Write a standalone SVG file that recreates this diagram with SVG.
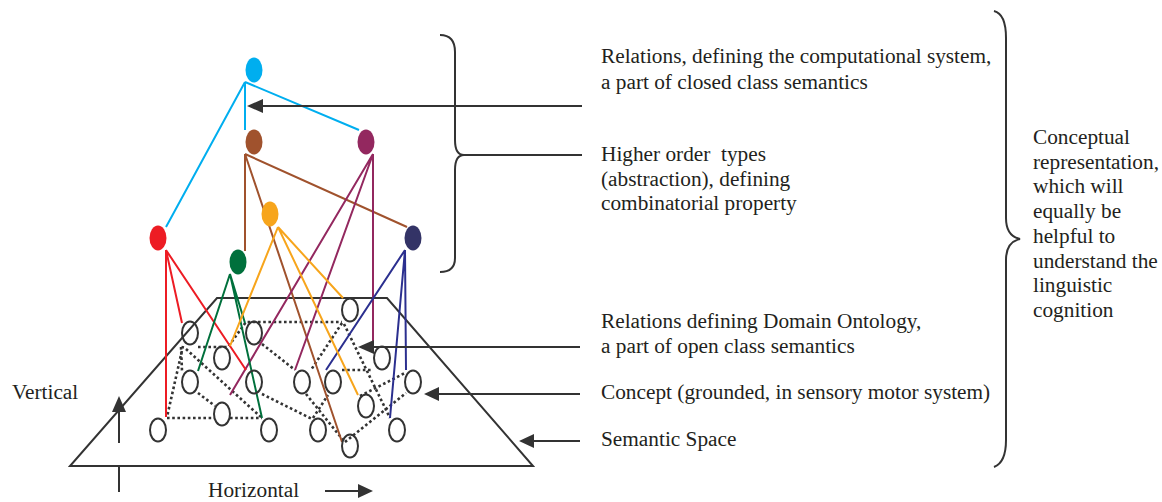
<svg xmlns="http://www.w3.org/2000/svg" width="1162" height="502" viewBox="0 0 1162 502">
<style>
text{font-family:"Liberation Serif","Times New Roman",serif;font-size:21.3px;fill:#231f20}
.g{fill:none;stroke:#333;stroke-width:2}
.dot{fill:none;stroke:#333;stroke-width:2.6;stroke-dasharray:2.6 2.6}
.k{fill:none;stroke:#333;stroke-width:2}
.ah{fill:#333;stroke:none}
.cy{stroke:#00aeef;stroke-width:2;fill:none}
.br{stroke:#a0522d;stroke-width:2;fill:none}
.mr{stroke:#93285f;stroke-width:2;fill:none}
.nv{stroke:#2b2f8f;stroke-width:2;fill:none}
.rd{stroke:#ed1c24;stroke-width:2;fill:none}
.gr{stroke:#00703c;stroke-width:2;fill:none}
.or{stroke:#f7a51c;stroke-width:2;fill:none}
</style>
<g id="semantic-space">
<polygon class="k" points="217,298 387,298 533,466 70,466"/>
</g>
<g id="connectors">
<polyline class="dot" points="198,347 228,347 246,322 342,322"/>
<line class="dot" x1="342" y1="323" x2="311" y2="370"/>
<line class="dot" x1="344" y1="324" x2="390" y2="418"/>
<line class="dot" x1="262" y1="344" x2="295" y2="370"/>
<line class="dot" x1="342" y1="370" x2="373" y2="370"/>
<line class="dot" x1="360" y1="396" x2="405" y2="373"/>
<line class="dot" x1="345" y1="442" x2="406" y2="393"/>
<line class="dot" x1="262" y1="394" x2="312" y2="419"/>
<line class="dot" x1="306" y1="394" x2="343" y2="440"/>
<line class="dot" x1="313" y1="418" x2="328" y2="395"/>
<line class="dot" x1="183" y1="346" x2="167" y2="417"/>
<line class="dot" x1="181" y1="347" x2="182" y2="371"/>
<line class="dot" x1="186" y1="349" x2="262" y2="418"/>
<line class="dot" x1="198" y1="393" x2="215" y2="406"/>
<line class="dot" x1="167" y1="418" x2="214" y2="418"/>
<line class="dot" x1="230" y1="418" x2="262" y2="418"/>
<path class="cy" d="M245,82 V130 M245,82 L166,227 M245,82 L359,130"/>
<path class="br" d="M245,154 V251 M245,154 L407,227 M245,154 L342,442"/>
<path class="mr" d="M373,154 V347 M373,154 L230,395 M373,154 L295,370"/>
<path class="nv" d="M405,250 L326,370 M405,250 L406,370 M405,250 L390,418"/>
<path class="rd" d="M166,250 V417 M166,250 L182,323 M166,250 L246,370"/>
<path class="gr" d="M230,274 L198,371 M230,274 L245,323 M230,274 L262,418"/>
<path class="or" d="M278,227 L230,346 M278,227 L343,298 M278,227 L358,395"/>
<line class="k" x1="582" y1="106" x2="262" y2="106"/>
<polygon class="ah" points="247,106 263,99 263,113"/>
<line class="k" x1="463" y1="155" x2="582" y2="155"/>
<line class="k" x1="580" y1="347" x2="373" y2="347"/>
<polygon class="ah" points="358,347 374,340 374,354"/>
<line class="k" x1="580" y1="394" x2="438" y2="394"/>
<polygon class="ah" points="424,394 439,387 439,401"/>
<line class="k" x1="580" y1="441" x2="533" y2="441"/>
<polygon class="ah" points="519,441 534,434 534,448"/>
<line class="k" x1="119" y1="443" x2="119" y2="410"/>
<polygon class="ah" points="119,396 112,412 126,412"/>
<line class="k" x1="119" y1="467" x2="119" y2="492"/>
<line class="k" x1="325" y1="491" x2="359" y2="491"/>
<polygon class="ah" points="373,491 358,484 358,498"/>
<path class="k" d="M440,35 C450,35 455,40 455,52 L455,140 C455,150 458,155 464,155 C458,155 455,160 455,170 L455,258 C455,268 450,272 440,272"/>
<path class="k" d="M994,11 C1002,13 1006,22 1006,38 L1006,218 C1006,230 1011,237 1020,239 C1011,241 1006,248 1006,260 L1006,440 C1006,456 1002,464 994,467"/>
</g>
<g id="higher-nodes">
<ellipse id="n-cyan" cx="254" cy="70" rx="8.5" ry="12.5" fill="#00aeef"/>
<ellipse id="n-brown" cx="254" cy="142" rx="8.5" ry="12.5" fill="#a0522d"/>
<ellipse id="n-maroon" cx="366" cy="142" rx="8.5" ry="12.5" fill="#93285f"/>
<ellipse id="n-orange" cx="270" cy="214" rx="8.5" ry="12.5" fill="#f7a51c"/>
<ellipse id="n-red" cx="158" cy="238" rx="8.5" ry="12.5" fill="#ed1c24"/>
<ellipse id="n-navy" cx="413" cy="238" rx="8.5" ry="12.5" fill="#333366"/>
<ellipse id="n-green" cx="238" cy="262" rx="8.5" ry="12.5" fill="#00703c"/>
</g>
<g id="concepts">
<ellipse id="c-a" class="g" cx="190" cy="333" rx="8" ry="11.5"/>
<ellipse id="c-b" class="g" cx="254" cy="333" rx="8" ry="11.5"/>
<ellipse id="c-c" class="g" cx="350" cy="310" rx="8" ry="11.5"/>
<ellipse id="c-d" class="g" cx="222" cy="358" rx="8" ry="11.5"/>
<ellipse id="c-e" class="g" cx="382" cy="358" rx="8" ry="11.5"/>
<ellipse id="c-f" class="g" cx="190" cy="382" rx="8" ry="11.5"/>
<ellipse id="c-g" class="g" cx="254" cy="382" rx="8" ry="11.5"/>
<ellipse id="c-h" class="g" cx="302" cy="382" rx="8" ry="11.5"/>
<ellipse id="c-i" class="g" cx="333" cy="382" rx="8" ry="11.5"/>
<ellipse id="c-j" class="g" cx="413" cy="382" rx="8" ry="11.5"/>
<ellipse id="c-k" class="g" cx="222" cy="414" rx="8" ry="11.5"/>
<ellipse id="c-l" class="g" cx="366" cy="406" rx="8" ry="11.5"/>
<ellipse id="c-m" class="g" cx="158" cy="430" rx="8" ry="11.5"/>
<ellipse id="c-n" class="g" cx="269" cy="430" rx="8" ry="11.5"/>
<ellipse id="c-o" class="g" cx="318" cy="430" rx="8" ry="11.5"/>
<ellipse id="c-p" class="g" cx="397" cy="430" rx="8" ry="11.5"/>
<ellipse id="c-q" class="g" cx="350" cy="446" rx="8" ry="11.5"/>
</g>
<g id="labels">
<text x="601" y="63">Relations, defining the computational system,</text>
<text x="601" y="89">a part of closed class semantics</text>
<text x="601" y="161" xml:space="preserve">Higher order  types</text>
<text x="601" y="186">(abstraction), defining</text>
<text x="601" y="210">combinatorial property</text>
<text x="601" y="328">Relations defining Domain Ontology,</text>
<text x="601" y="353">a part of open class semantics</text>
<text x="601" y="399">Concept (grounded, in sensory motor system)</text>
<text x="601" y="446">Semantic Space</text>
<text x="12" y="399">Vertical</text>
<text x="208" y="497">Horizontal</text>
<text x="1033" y="144">Conceptual</text>
<text x="1033" y="169">representation,</text>
<text x="1033" y="193">which will</text>
<text x="1033" y="218">equally be</text>
<text x="1033" y="243">helpful to</text>
<text x="1033" y="268">understand the</text>
<text x="1033" y="292">linguistic</text>
<text x="1033" y="317">cognition</text>
</g>
</svg>
